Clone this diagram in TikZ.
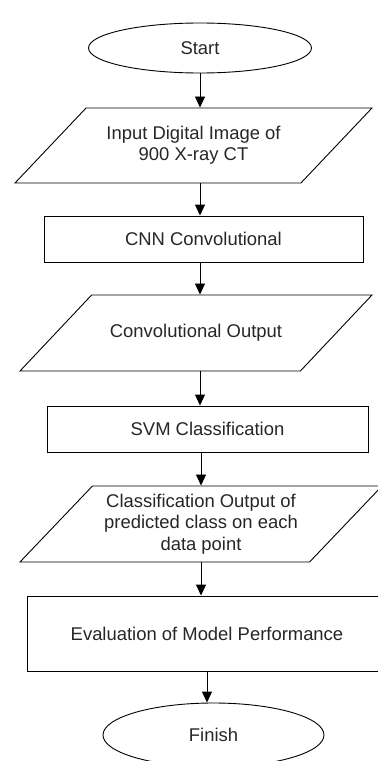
\documentclass[tikz,border=0pt]{standalone}
\usepackage{fontspec}
\setmainfont{Liberation Sans}
\usetikzlibrary{shapes.geometric,arrows.meta}
\begin{document}
\begin{tikzpicture}[x=1bp,y=-1bp,line width=0.9bp,
  every node/.style={draw,font=\fontsize{18.5}{21.5}\selectfont,text=black!85,align=center,inner sep=0pt},
  term/.style={ellipse},
  proc/.style={rectangle},
  io/.style={trapezium,trapezium left angle=46,trapezium right angle=134,trapezium stretches body},
  flow/.style={-{Triangle[width=10bp,length=11bp]}}]
\useasboundingbox (0,0) rectangle (377,761);
\node[term,minimum width=223bp,minimum height=50bp] (start) at (200,48) {Start};
\node[io,inner ysep=17.5bp,minimum width=357bp,minimum height=75bp] (inimg) at (193.5,145.5) {Input Digital Image of\\900 X-ray CT};
\node[proc,minimum width=319bp,minimum height=46bp] (cnn) at (203.5,239) {CNN Convolutional};
\node[io,inner ysep=28.5bp,minimum width=352bp,minimum height=76bp] (convout) at (196,333) {Convolutional Output};
\node[proc,minimum width=321bp,minimum height=46bp] (svm) at (207.5,429) {SVM Classification};
\node[io,inner ysep=7.5bp,minimum width=362bp,minimum height=76bp] (clsout) at (201,524) {Classification Output of\\predicted class on each\\data point};
\node[proc,minimum width=360bp,minimum height=75bp] (eval) at (207,633.5) {Evaluation of Model Performance};
\node[term,minimum width=221bp,minimum height=64bp] (finish) at (213.5,735) {Finish};
\draw[flow](start)--(start|-inimg.north);
\draw[flow](inimg.south-|start)--(start|-cnn.north);
\draw[flow](cnn.south-|start)--(start|-convout.north);
\draw[flow](convout.south-|start)--(start|-svm.north);
\draw[flow](clsout.south|-svm.south)--(clsout.north);
\draw[flow](clsout.south)--(clsout.south|-eval.north);
\draw[flow](eval)--(eval|-finish.north);
\end{tikzpicture}
\end{document}
